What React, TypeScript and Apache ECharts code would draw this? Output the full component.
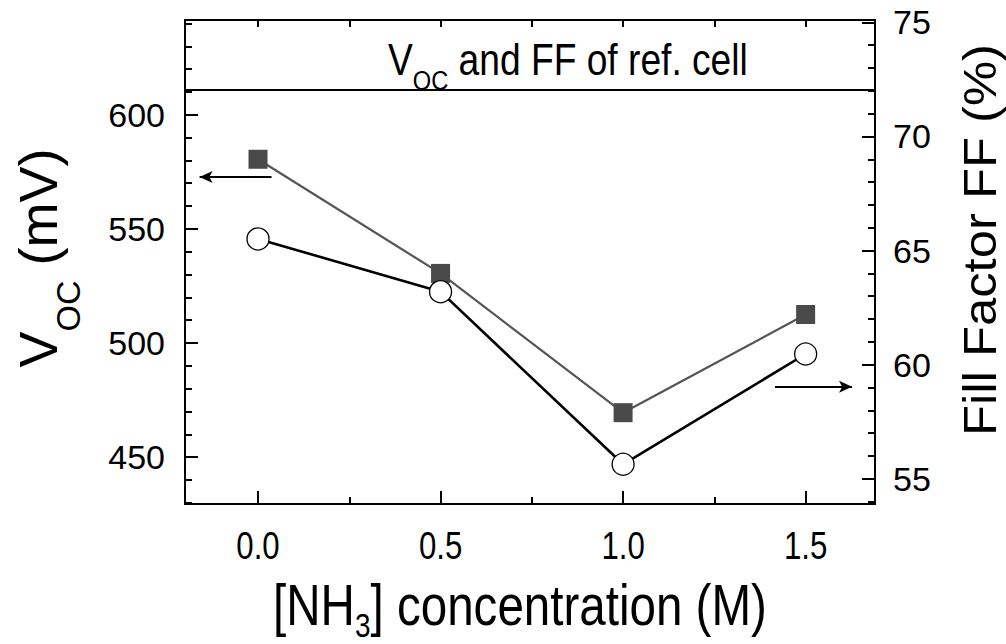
import React, { useEffect, useRef } from "react";
import * as echarts from "echarts";

const concentration = [0, 0.5, 1.0, 1.5];
const vocValues = [545.6, 522.5, 446.9, 495.2];
const ffValues = [69.0, 64.0, 57.9, 62.2];
const refVoc = 611;
const xMajorTicks = [0, 0.5, 1.0, 1.5];
const xMinorTicks = [0.25, 0.75, 1.25];
const xTopTicks = [0, 0.25, 0.5, 0.75, 1.0, 1.25, 1.5];
const vocMajorTicks = [450, 500, 550, 600];
const vocMinorTicks = [430, 440, 460, 470, 480, 490, 510, 520, 530, 540, 560, 570, 580, 590, 610, 620, 630, 640];
const ffMajorTicks = [55, 60, 65, 70, 75];
const ffMinorTicks = [54, 56, 57, 58, 59, 61, 62, 63, 64, 66, 67, 68, 69, 71, 72, 73, 74];
const vocArrow = [[0.037, 572.7], [-0.16, 572.7]];
const ffArrow = [[1.416, 59.04], [1.627, 59.04]];

const REG = '"Liberation Sans", Arial, sans-serif';
const NARROW_SCALE = 0.82;

const X_MIN = -0.2, X_MAX = 1.69;
const V_MIN = 429.5, V_MAX = 641.5;
const F_MIN = 53.9, F_MAX = 75.1;

const line = { show: true, onZero: false, lineStyle: { color: "#000", width: 2 } };
const noLine = { show: false, onZero: false };
const tick = (vals: number[], len: number) => ({
  show: true, inside: true, length: len, customValues: vals,
  lineStyle: { color: "#000", width: 2 },
});

const arrowPair = (pts: number[][]) => [
  { coord: pts[0], symbol: "none" },
  { coord: pts[1], symbol: "arrow" },
];

export default function App() {
  const ref = useRef<HTMLDivElement>(null);
  useEffect(() => {
    const chart = echarts.init(ref.current!, null, { renderer: "svg" });
    const option: any = {
      animation: false,
      backgroundColor: "#fff",
      grid: { left: 185, top: 20, width: 690, height: 484, containLabel: false },
      xAxis: [
        {
          type: "value", position: "bottom", min: X_MIN, max: X_MAX,
          axisLine: line, axisTick: tick(xMajorTicks, 13), splitLine: { show: false },
          axisLabel: { show: false },
        },
        {
          type: "value", position: "bottom", min: X_MIN, max: X_MAX,
          axisLine: noLine, axisTick: tick(xMinorTicks, 7), splitLine: { show: false },
          axisLabel: { show: false },
        },
        {
          type: "value", position: "top", min: X_MIN, max: X_MAX,
          axisLine: line, axisTick: tick(xTopTicks, 7), splitLine: { show: false },
          axisLabel: { show: false },
        },
      ],
      yAxis: [
        {
          type: "value", position: "left", min: V_MIN, max: V_MAX,
          axisLine: line, axisTick: tick(vocMajorTicks, 13), splitLine: { show: false },
          axisLabel: {
            customValues: vocMajorTicks, fontSize: 34, fontFamily: REG, color: "#000", margin: 20,
          },
        },
        {
          type: "value", position: "left", min: V_MIN, max: V_MAX,
          axisLine: noLine, axisTick: tick(vocMinorTicks, 7), splitLine: { show: false },
          axisLabel: { show: false },
        },
        {
          type: "value", position: "right", min: F_MIN, max: F_MAX,
          axisLine: line, axisTick: tick(ffMajorTicks, 13), splitLine: { show: false },
          axisLabel: {
            customValues: ffMajorTicks, fontSize: 34, fontFamily: REG, color: "#000", margin: 18,
          },
        },
        {
          type: "value", position: "right", min: F_MIN, max: F_MAX,
          axisLine: noLine, axisTick: tick(ffMinorTicks, 7), splitLine: { show: false },
          axisLabel: { show: false },
        },
      ],
      series: [
        {
          name: "FF", type: "line", xAxisIndex: 0, yAxisIndex: 2,
          data: concentration.map((c, i) => [c, ffValues[i]]),
          symbol: "rect", symbolSize: 19,
          itemStyle: { color: "#4a4a4a" },
          lineStyle: { color: "#555", width: 2.2 },
          z: 2,
          markLine: {
            silent: true, symbol: "none", symbolSize: [9, 13],
            label: { show: false },
            lineStyle: { color: "#000", width: 2, type: "solid" },
            data: [arrowPair(ffArrow)],
          },
        },
        {
          name: "Voc", type: "line", xAxisIndex: 0, yAxisIndex: 0,
          data: concentration.map((c, i) => [c, vocValues[i]]),
          symbol: "circle", symbolSize: 22,
          itemStyle: { color: "#fff", borderColor: "#000", borderWidth: 1.3 },
          lineStyle: { color: "#000", width: 2.6 },
          z: 3,
          markLine: {
            silent: true, symbol: "none", symbolSize: [9, 13],
            label: { show: false },
            lineStyle: { color: "#000", width: 2, type: "solid" },
            data: [
              { yAxis: refVoc },
              arrowPair(vocArrow),
            ],
          },
        },
      ],
    };
    chart.setOption(option);

    const xLabels = xMajorTicks.map((v) => ({
      type: "text",
      x: chart.convertToPixel({ xAxisIndex: 0 } as any, v) as number,
      y: 545,
      scaleX: 0.8,
      style: {
        text: v.toFixed(1), align: "center", verticalAlign: "middle",
        fontSize: 39, fontFamily: REG, fill: "#000",
      },
    }));

    const graphics: any[] = [
      {
        type: "text", x: 388, y: 38, scaleX: 0.845,
        style: {
          text: "{a|V}{b|OC}{a| and FF of ref. cell}", align: "left", verticalAlign: "top",
          rich: {
            a: { fontSize: 44, fontFamily: REG, fill: "#000", lineHeight: 44, verticalAlign: "top" },
            b: { fontSize: 28, fontFamily: REG, fill: "#000", lineHeight: 28, padding: [28, 0, 0, 0], verticalAlign: "top" },
          },
        },
      },
      {
        type: "text", x: 38, y: 258, rotation: Math.PI / 2,
        style: {
          text: "{a|V}{b|OC}{a| (mV)}", align: "center", verticalAlign: "middle",
          rich: {
            a: { fontSize: 54, fontFamily: REG, fill: "#000", lineHeight: 54, verticalAlign: "top" },
            b: { fontSize: 34, fontFamily: REG, fill: "#000", lineHeight: 34, padding: [40, 0, 0, 0], verticalAlign: "top" },
          },
        },
      },
      {
        type: "text", x: 980, y: 240, rotation: Math.PI / 2, scaleX: 1.08,
        style: {
          text: "Fill Factor FF (%)", align: "center", verticalAlign: "middle",
          fontSize: 47, fontFamily: REG, fill: "#000",
        },
      },
      {
        type: "text", x: 520, y: 576, scaleX: NARROW_SCALE,
        style: {
          text: "{a|[NH}{b|3}{a|] concentration (M)}", align: "center", verticalAlign: "top",
          rich: {
            a: { fontSize: 58, fontFamily: REG, fill: "#000", lineHeight: 58, verticalAlign: "top" },
            b: { fontSize: 34, fontFamily: REG, fill: "#000", lineHeight: 34, padding: [33, 0, 0, 0], verticalAlign: "top" },
          },
        },
      },
      ...xLabels,
    ];
    chart.setOption({ graphic: graphics });
    return () => chart.dispose();
  }, []);
  return (
    <div
      ref={ref}
      style={{ position: "fixed", left: 0, top: 0, width: 1006, height: 644, background: "#fff" }}
    />
  );
}
